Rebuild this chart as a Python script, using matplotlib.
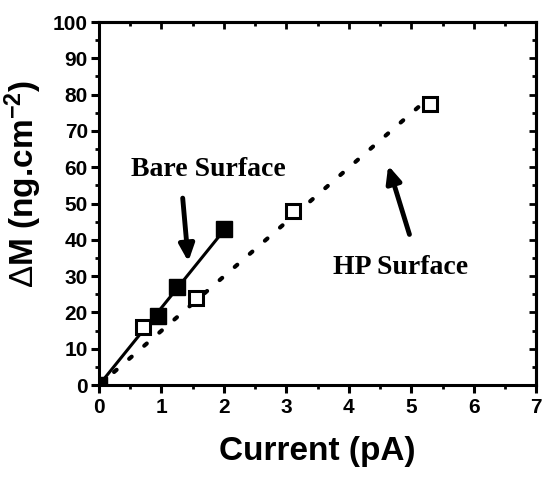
import numpy as np
import matplotlib.pyplot as plt
from matplotlib.ticker import MultipleLocator

plt.rcParams['mathtext.fontset'] = 'custom'
plt.rcParams['mathtext.rm'] = 'Liberation Sans'
plt.rcParams['mathtext.bf'] = 'Liberation Sans:bold'
plt.rcParams['mathtext.it'] = 'Liberation Sans:italic'

# 数据
bare_x = [0.0, 0.95, 1.25, 2.0]
bare_y = [0.0, 19.0, 27.0, 43.0]
hp_x = [0.0, 0.7, 1.55, 3.1, 5.3]
hp_y = [0.0, 16.0, 24.0, 48.0, 77.5]


def fit_origin(x, y):
    x = np.array(x)
    y = np.array(y)
    return (x * y).sum() / (x * x).sum()


fig = plt.figure(figsize=(5.5, 4.79), dpi=100)
ax = fig.add_axes([0.18, 0.196, 0.795, 0.758])

# 拟合线
k_bare = fit_origin(bare_x, bare_y)
k_hp = fit_origin(hp_x, hp_y)
xb = np.array([0, max(bare_x)])
xh = np.array([0, max(hp_x)])
ax.plot(xb, k_bare * xb, color='black', lw=2.2, zorder=2)
ax.plot(xh, k_hp * xh, color='black', lw=3, ls=(0, (0.8, 4.0)),
        dash_capstyle='round', zorder=2)

ax.plot(hp_x, hp_y, ls='none', marker='s', ms=10, mfc='white', mec='black',
        mew=2.2, zorder=3)
ax.plot(bare_x, bare_y, ls='none', marker='s', ms=11, mfc='black', mec='black',
        zorder=4)

ax.set_xlim(0, 7)
ax.set_ylim(0, 100)
ax.xaxis.set_major_locator(MultipleLocator(1))
ax.xaxis.set_minor_locator(MultipleLocator(0.5))
ax.yaxis.set_major_locator(MultipleLocator(10))
ax.yaxis.set_minor_locator(MultipleLocator(5))

for s in ax.spines.values():
    s.set_linewidth(2.2)

ax.tick_params(which='major', length=6, width=2.2, direction='out')
ax.tick_params(which='minor', length=3, width=2, direction='out')
for lab in ax.get_xticklabels() + ax.get_yticklabels():
    lab.set_fontfamily('Liberation Sans')
    lab.set_fontweight('bold')
    lab.set_fontsize(15)
ax.tick_params(axis='x', pad=3)
ax.tick_params(axis='y', pad=2)

# 顶部和右侧的内向刻度
top = ax.secondary_xaxis('top')
top.xaxis.set_major_locator(MultipleLocator(1))
top.xaxis.set_minor_locator(MultipleLocator(0.5))
top.tick_params(which='major', direction='in', length=5, width=2, labeltop=False)
top.tick_params(which='minor', direction='in', length=3, width=2)
top.spines['top'].set_linewidth(2.2)
right = ax.secondary_yaxis('right')
right.yaxis.set_major_locator(MultipleLocator(10))
right.yaxis.set_minor_locator(MultipleLocator(5))
right.tick_params(which='major', direction='in', length=5, width=2, labelright=False)
right.tick_params(which='minor', direction='in', length=3, width=2)
right.spines['right'].set_linewidth(2.2)

ax.set_xlabel('Current (pA)', fontsize=24, fontweight='bold',
              fontfamily='Liberation Sans', labelpad=14)
ax.set_ylabel(r'$\Delta$M (ng.cm$^{\mathbf{-2}}$)', fontsize=24, fontweight='bold',
              fontfamily='Liberation Sans')
ax.yaxis.set_label_coords(-0.125, 0.555)

# 标注
arrow = dict(arrowstyle='-|>,head_length=1.0,head_width=0.45',
             lw=3.5, color='black', shrinkA=0, shrinkB=0)
ax.text(1.75, 59.3, 'Bare Surface', fontsize=20, fontweight='bold',
        fontfamily='Liberation Serif', ha='center', va='center')
ax.annotate('', xy=(1.43, 34.0), xytext=(1.34, 51.5), arrowprops=arrow)
ax.text(4.83, 32.5, 'HP Surface', fontsize=20, fontweight='bold',
        fontfamily='Liberation Serif', ha='center', va='center')
ax.annotate('', xy=(4.63, 60.5), xytext=(4.97, 41.5), arrowprops=arrow)

fig.savefig('out.png', dpi=100)
